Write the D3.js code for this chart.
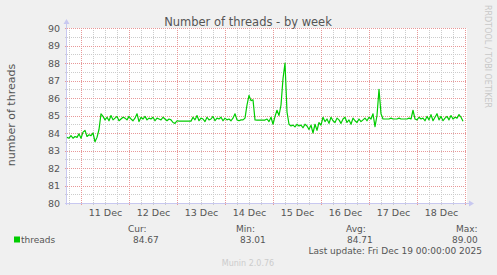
<!DOCTYPE html>
<html>
<head>
<meta charset="utf-8">
<script src="https://cdn.jsdelivr.net/npm/d3@7"></script>
<style>
  body { margin: 0; background: #f0f0f0; }
  svg text { font-family: "DejaVu Sans", sans-serif; fill: #555; }
</style>
</head>
<body>
<script>
const canvWidth = 497, canvHeight = 275;
const plot = {left: 67, right: 467, top: 28, bottom: 203};

// hourly samples, starting Dec 10 17:00
const startTime = new Date(2025, 11, 10, 17, 0);
const threads = [
  83.75, 83.7, 83.85, 83.7, 83.8, 83.75, 83.95, 83.7, 84.05, 84.15,
  83.8, 83.9, 83.85, 84.0, 83.5, 83.75, 84.2, 85.1, 84.95, 84.75,
  84.9, 84.7, 85.0, 84.75, 84.85, 84.95, 84.7, 84.8, 84.9, 84.85,
  84.75, 84.95, 84.8, 84.7, 84.85, 85.1, 84.65, 84.9, 84.8, 84.95,
  84.75, 84.85, 84.8, 84.9, 84.7, 84.85, 84.8, 84.75, 84.9, 84.8,
  84.7, 84.8, 84.75, 84.6, 84.55, 84.7, 84.68, 84.68, 84.68, 84.68,
  84.68, 84.68, 84.68, 84.9, 84.75, 85.0, 84.7, 84.85, 84.8, 84.65,
  84.9, 84.75, 84.8, 84.95, 84.7, 84.85, 84.8, 84.9, 84.7, 84.85,
  84.75, 84.8, 84.7, 84.85, 85.1, 84.75, 84.7, 84.75, 84.75, 84.85,
  85.6, 86.15, 85.85, 85.9, 84.75, 84.74, 84.74, 84.74, 84.74, 84.74,
  84.8, 84.65, 84.9, 84.5, 84.95, 85.3, 85.0, 85.6, 87.1, 88.0,
  85.2, 84.5, 84.4, 84.45, 84.35, 84.5, 84.4, 84.45, 84.3, 84.5,
  84.4, 84.2, 84.45, 84.0, 84.5, 84.15, 84.6, 84.45, 84.9, 84.65,
  84.8, 84.55, 84.9, 84.7, 84.6, 84.85, 84.75, 84.55, 84.8, 84.9,
  84.6, 84.75, 84.5, 84.85, 84.7, 84.6, 84.8, 84.65, 84.75, 84.85,
  84.7, 84.9, 84.8, 85.1, 84.36, 85.0, 86.5, 85.1, 84.8, 84.8,
  84.8, 84.8, 84.85, 84.8, 84.8, 84.8, 84.85, 84.8, 84.8, 84.8,
  84.8, 84.85, 84.8, 85.3, 84.8, 84.75, 84.9, 84.8, 84.85, 84.7,
  84.95, 84.75, 85.05, 84.7, 84.9, 85.1, 84.75, 84.95, 84.7, 84.85,
  84.95, 84.75, 85.0, 84.8, 84.9, 84.85, 85.05, 84.9, 84.67
];

const yTicks = [80, 81, 82, 83, 84, 85, 86, 87, 88, 89, 90];
const dayLabels = ["11 Dec", "12 Dec", "13 Dec", "14 Dec", "15 Dec", "16 Dec", "17 Dec", "18 Dec"];
const legendHeads = ["Cur:", "Min:", "Avg:", "Max:"];
const legendValues = ["84.67", "83.01", "84.71", "89.00"];

const headX = [128, 236, 346, 456];
const valueX = [133, 240, 347, 452];

const data = threads.map((v, i) => ({t: d3.timeHour.offset(startTime, i), v: v}));

const svg = d3.select("body").append("svg")
    .attr("width", canvWidth)
    .attr("height", canvHeight)
    .style("display", "block");

svg.append("rect").attr("width", canvWidth).attr("height", canvHeight).attr("fill", "#f0f0f0");

const xScale = d3.scaleTime()
    .domain([startTime, new Date(2025, 11, 19, 1, 0)])
    .range([plot.left, plot.right]);
const yScale = d3.scaleLinear().domain([80, 90]).range([plot.bottom, plot.top]);

svg.append("rect")
    .attr("x", plot.left).attr("y", plot.top)
    .attr("width", plot.right - plot.left).attr("height", plot.bottom - plot.top)
    .attr("fill", "white");

// grid
const grid = svg.append("g").attr("shape-rendering", "crispEdges");
const minorX = d3.timeHour.every(6).range(xScale.domain()[0], xScale.domain()[1]);
const majorX = d3.timeDay.range(xScale.domain()[0], xScale.domain()[1]);
const minorY = d3.range(80.5, 90, 1);

grid.selectAll(".mx").data(minorX).enter().append("line")
    .attr("x1", d => Math.round(xScale(d)) + 0.5).attr("x2", d => Math.round(xScale(d)) + 0.5)
    .attr("y1", plot.top).attr("y2", plot.bottom + 2)
    .attr("stroke", "#cccccc").attr("stroke-dasharray", "1,1");
grid.selectAll(".my").data(minorY).enter().append("line")
    .attr("x1", plot.left - 2).attr("x2", plot.right)
    .attr("y1", d => Math.round(yScale(d)) + 0.5).attr("y2", d => Math.round(yScale(d)) + 0.5)
    .attr("stroke", "#cccccc").attr("stroke-dasharray", "1,1");
grid.selectAll(".Mx").data(majorX).enter().append("line")
    .attr("x1", d => Math.round(xScale(d)) + 0.5).attr("x2", d => Math.round(xScale(d)) + 0.5)
    .attr("y1", plot.top).attr("y2", plot.bottom + 2)
    .attr("stroke", "#e89898").attr("stroke-dasharray", "1,1");
grid.selectAll(".My").data(yTicks).enter().append("line")
    .attr("x1", plot.left - 2).attr("x2", plot.right)
    .attr("y1", d => Math.round(yScale(d)) + 0.5).attr("y2", d => Math.round(yScale(d)) + 0.5)
    .attr("stroke", "#e89898").attr("stroke-dasharray", "1,1");

// axes lines + arrows
const axisColor = "#c8c8f0";
svg.append("line").attr("x1", plot.left - 0.5).attr("x2", plot.left - 0.5)
    .attr("y1", plot.top - 6).attr("y2", plot.bottom + 2).attr("stroke", axisColor);
svg.append("line").attr("x1", plot.left - 2).attr("x2", plot.right + 4)
    .attr("y1", plot.bottom + 0.5).attr("y2", plot.bottom + 0.5).attr("stroke", axisColor);
svg.append("path")
    .attr("d", `M${plot.left - 3.5},${plot.top - 4} L${plot.left - 0.5},${plot.top - 9} L${plot.left + 2.5},${plot.top - 4} Z`)
    .attr("fill", axisColor);
svg.append("path")
    .attr("d", `M${plot.right + 2},${plot.bottom - 2.5} L${plot.right + 7},${plot.bottom + 0.5} L${plot.right + 2},${plot.bottom + 3.5} Z`)
    .attr("fill", axisColor);

// tick labels
const yAxis = d3.axisLeft(yScale).tickValues(yTicks).tickSize(0).tickPadding(7);
svg.append("g").attr("transform", `translate(${plot.left},0)`).call(yAxis)
    .call(g => g.select(".domain").remove())
    .selectAll("text").attr("font-size", "9.5px").attr("font-family", null).attr("fill", "#555");

const noon = dayLabels.map((d, i) => d3.timeHour.offset(new Date(2025, 11, 11, 12), i * 24));
const xAxis = d3.axisBottom(xScale).tickValues(noon).tickSize(0).tickPadding(6)
    .tickFormat((d, i) => dayLabels[i]);
svg.append("g").attr("transform", `translate(0,${plot.bottom})`).call(xAxis)
    .call(g => g.select(".domain").remove())
    .selectAll("text").attr("font-size", "9.5px").attr("font-family", null).attr("fill", "#555");

// series
const line = d3.line().x(d => xScale(d.t)).y(d => yScale(d.v));
svg.append("path").datum(data)
    .attr("d", line)
    .attr("fill", "none")
    .attr("stroke", "#00cc00")
    .attr("stroke-width", 1.2)
    .attr("stroke-linejoin", "round");

// titles
svg.append("text").attr("x", 248).attr("y", 26)
    .attr("text-anchor", "middle").attr("font-size", "11.5px")
    .text("Number of threads - by week");
svg.append("text").attr("transform", "translate(15,115) rotate(-90)")
    .attr("text-anchor", "middle").attr("font-size", "11px")
    .text("number of threads");
svg.append("text").attr("transform", "translate(485,5) rotate(90)")
    .attr("text-anchor", "start").attr("font-size", "8px").style("fill", "#c8c8c8")
    .text("RRDTOOL / TOBI OETIKER");

// legend
svg.append("rect").attr("x", 14).attr("y", 236.5).attr("width", 6).attr("height", 6).attr("fill", "#00cc00");
svg.append("text").attr("x", 21).attr("y", 243).attr("font-size", "9px").text("threads");
svg.selectAll(".lh").data(legendHeads).enter().append("text")
    .attr("x", (d, i) => headX[i]).attr("y", 231.5).attr("font-size", "9px").text(d => d);
svg.selectAll(".lv").data(legendValues).enter().append("text")
    .attr("x", (d, i) => valueX[i]).attr("y", 243).attr("font-size", "9px").text(d => d);
svg.append("text").attr("x", 482).attr("y", 254).attr("text-anchor", "end").attr("font-size", "9px")
    .text("Last update: Fri Dec 19 00:00:00 2025");
svg.append("text").attr("x", 248).attr("y", 266).attr("text-anchor", "middle").attr("font-size", "8px")
    .style("fill", "#cccccc").text("Munin 2.0.76");
</script>
</body>
</html>
